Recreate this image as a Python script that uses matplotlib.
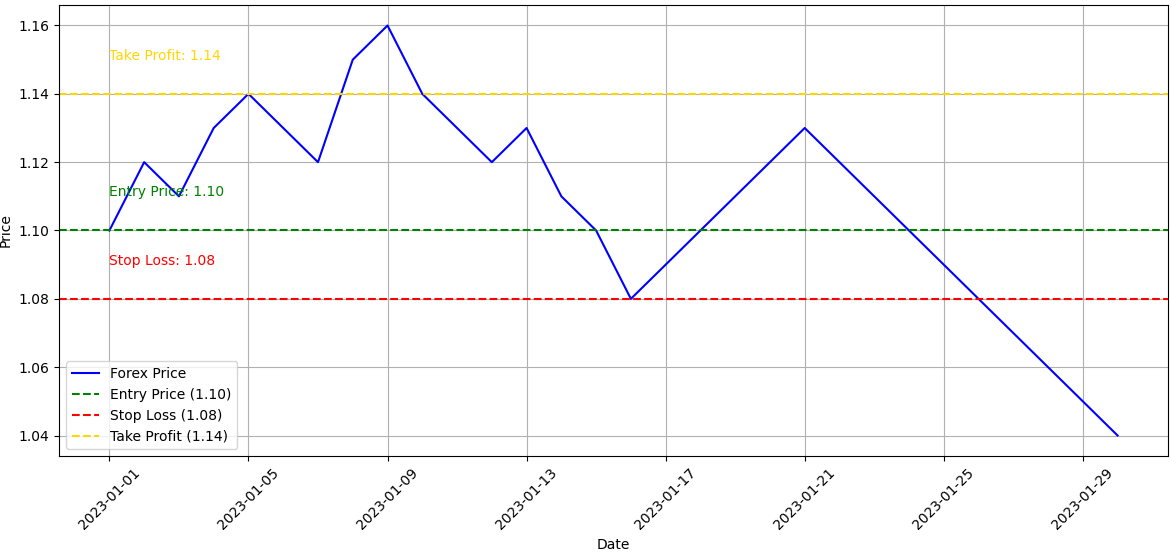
import matplotlib
matplotlib.use("Agg")
import matplotlib.pyplot as plt
import pandas as pd

# datos
fechas = pd.date_range("2023-01-01", "2023-01-30", freq="D")
precios = [1.10, 1.12, 1.11, 1.13, 1.14, 1.13, 1.12, 1.15, 1.16, 1.14,
           1.13, 1.12, 1.13, 1.11, 1.10, 1.08, 1.09, 1.10, 1.11, 1.12,
           1.13, 1.12, 1.11, 1.10, 1.09, 1.08, 1.07, 1.06, 1.05, 1.04]

entrada = 1.10
stop_loss = 1.08
take_profit = 1.14

fig, ax = plt.subplots(figsize=(11.71, 5.53), dpi=100)

ax.plot(fechas, precios, color='blue', label='Forex Price')
ax.axhline(entrada, color='green', linestyle='--', label=f'Entry Price ({entrada:.2f})')
ax.axhline(stop_loss, color='red', linestyle='--', label=f'Stop Loss ({stop_loss:.2f})')
ax.axhline(take_profit, color='gold', linestyle='--', label=f'Take Profit ({take_profit:.2f})')

# etiquetas sobre cada linea
ax.text(fechas[0], entrada + 0.01, f'Entry Price: {entrada:.2f}', color='green')
ax.text(fechas[0], stop_loss + 0.01, f'Stop Loss: {stop_loss:.2f}', color='red')
ax.text(fechas[0], take_profit + 0.01, f'Take Profit: {take_profit:.2f}', color='gold')

ax.set_xlabel('Date')
ax.set_ylabel('Price')
ax.legend(loc='lower left')
ax.grid(True)
plt.xticks(rotation=45)
plt.subplots_adjust(left=59/1171, right=1168/1171, top=1-5/553, bottom=1-456/553)
plt.savefig('out.png')
